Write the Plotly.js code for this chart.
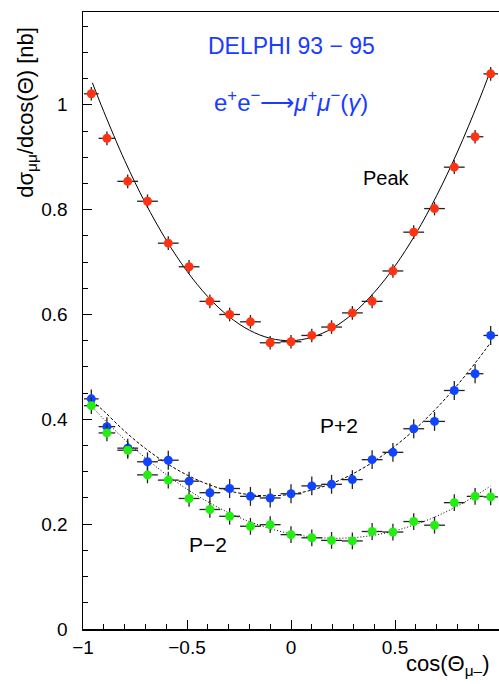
<!DOCTYPE html>
<html><head><meta charset="utf-8">
<script src="https://cdn.plot.ly/plotly-3.0.1.min.js"></script>
<style>html,body{margin:0;padding:0;background:#fff;overflow:hidden}</style>
</head><body><div id="chart" style="width:499px;height:684px"></div>
<script>
// bin centres of cos(theta)
const cosBins = [-0.96,-0.885,-0.785,-0.69,-0.59,-0.49,-0.39,-0.295,-0.195,-0.1,0,0.1,0.195,0.295,0.39,0.49,0.59,0.69,0.785,0.885,0.96];
// measured cross sections [nb]
const peakVals = [1.021,0.936,0.854,0.816,0.736,0.691,0.625,0.600,0.586,0.546,0.548,0.560,0.576,0.603,0.625,0.683,0.757,0.802,0.881,0.939,1.059];
const pPlus2Vals = [0.439,0.386,0.345,0.319,0.322,0.282,0.260,0.268,0.253,0.250,0.258,0.273,0.276,0.285,0.323,0.337,0.382,0.396,0.455,0.487,0.560];
const pMinus2Vals = [0.426,0.374,0.341,0.294,0.284,0.249,0.228,0.215,0.196,0.199,0.180,0.174,0.169,0.168,0.186,0.185,0.205,0.198,0.241,0.253,0.252];
// half bin widths and statistical errors
const binHalfWidth = [0.035,0.04,0.05,0.05,0.05,0.05,0.05,0.05,0.05,0.05,0.05,0.05,0.05,0.05,0.05,0.05,0.05,0.05,0.05,0.04,0.035];
const peakErr = 0.013;
const pPlus2Err = 0.018;
const pMinus2Err = 0.016;
// fitted curves
const fitX = [-0.955,-0.9,-0.8,-0.7,-0.6,-0.5,-0.4,-0.3,-0.2,-0.1,0,0.1,0.2,0.3,0.4,0.5,0.6,0.7,0.8,0.9,0.96];
const peakFit = [1.042,0.987,0.894,0.8125,0.742,0.6825,0.634,0.5965,0.570,0.5545,0.550,0.5565,0.574,0.6025,0.642,0.6925,0.754,0.8265,0.910,1.0045,1.066];
const pPlus2Fit = [0.435,0.4157,0.3775,0.3444,0.3165,0.2938,0.2761,0.2636,0.2563,0.2541,0.257,0.2651,0.2783,0.2966,0.3201,0.3488,0.3825,0.4214,0.4655,0.5147,0.5467];
const pMinus2Fit = [0.4232,0.4004,0.3615,0.3263,0.2947,0.2668,0.2426,0.2219,0.2049,0.1914,0.1817,0.1756,0.1731,0.1743,0.1790,0.1874,0.1995,0.2151,0.2345,0.2574,0.2730];

const FONT = 'Liberation Sans, Arial, Helvetica, sans-serif';
const errCol = '#222222';

function pts(y, err, color) {
  return {
    x: cosBins, y: y, type: 'scatter', mode: 'markers',
    marker: {color: color, size: 9, line: {width: 0}},
    error_x: {type: 'data', array: binHalfWidth, visible: true, color: errCol, thickness: 1.3, width: 0},
    error_y: {type: 'constant', value: err, visible: true, color: errCol, thickness: 1.3, width: 0},
    showlegend: false, hoverinfo: 'x+y'
  };
}
function fit(y, dash) {
  return {x: fitX, y: y, type: 'scatter', mode: 'lines',
    line: {color: '#000', width: 1, dash: dash, shape: 'spline'}, showlegend: false};
}

const data = [
  fit(peakFit, 'solid'),
  fit(pPlus2Fit, '3px,2px'),
  fit(pMinus2Fit, '1px,2px'),
  pts(peakVals, peakErr, '#ff3311'),
  pts(pPlus2Vals, pPlus2Err, '#1144ff'),
  pts(pMinus2Vals, pMinus2Err, '#22ee11')
];

const layout = {
  width: 499, height: 684,
  margin: {l: 83, r: 0, t: 12, b: 55},
  paper_bgcolor: '#fff', plot_bgcolor: '#fff',
  font: {family: FONT, color: '#000', size: 19},
  xaxis: {
    range: [-1, 1], showgrid: false, zeroline: false,
    showline: true, linecolor: '#000', linewidth: 1.5, mirror: true,
    ticks: 'inside', ticklen: 9, tickcolor: '#000', tickwidth: 1,
    tickvals: [-1,-0.5,0,0.5,1], ticktext: ['\u22121','\u22120.5','0','0.5','1'],
    minor: {dtick: 0.1, ticks: 'inside', ticklen: 5, tickcolor: '#000', tickwidth: 1, showgrid: false},
    tickfont: {family: FONT, size: 19}, ticklabelstandoff: 1
  },
  yaxis: {
    range: [0, 1.177], showgrid: false, zeroline: false,
    showline: true, linecolor: '#000', linewidth: 1.5,
    ticks: 'inside', ticklen: 9, tickcolor: '#000', tickwidth: 1,
    tickvals: [0,0.2,0.4,0.6,0.8,1], ticktext: ['0','0.2','0.4','0.6','0.8','1'],
    minor: {dtick: 0.05, ticks: 'inside', ticklen: 5, tickcolor: '#000', tickwidth: 1, showgrid: false},
    tickfont: {family: FONT, size: 19}, ticklabelstandoff: 10
  },
  annotations: [
    {xref: 'paper', yref: 'paper', x: -0.135, y: 0.838, xanchor: 'center', yanchor: 'middle', textangle: -90, showarrow: false,
     text: 'd\u03c3<sub>\u03bc\u03bc</sub>/dcos(\u0398) [nb]', font: {family: FONT, size: 22, color: '#000'}},
    {xref: 'paper', yref: 'paper', x: 0.772, y: -0.058, xanchor: 'left', yanchor: 'middle', showarrow: false,
     text: 'cos(\u0398<sub>\u03bc\u2013</sub>)', font: {family: FONT, size: 22, color: '#000'}},
    {xref: 'x', yref: 'y', x: 0, y: 1.113, showarrow: false,
     text: 'DELPHI 93 \u2212 95', font: {family: FONT, size: 23, color: '#1a3cff'}},
    {xref: 'x', yref: 'y', x: 0, y: 1.008, showarrow: false,
     text: 'e<sup>+</sup>e<sup>\u2212</sup>\u27f6<i>\u03bc</i><sup>+</sup><i>\u03bc</i><sup>\u2212</sup>(<i>\u03b3</i>)', font: {family: FONT, size: 24, color: '#1a3cff'}},
    {xref: 'x', yref: 'y', x: 0.46, y: 0.861, showarrow: false, text: 'Peak', font: {family: FONT, size: 20, color: '#000'}},
    {xref: 'x', yref: 'y', x: 0.23, y: 0.389, showarrow: false, text: 'P+2', font: {family: FONT, size: 21, color: '#000'}},
    {xref: 'x', yref: 'y', x: -0.40, y: 0.162, showarrow: false, text: 'P\u22122', font: {family: FONT, size: 21, color: '#000'}}
  ]
};
Plotly.newPlot('chart', data, layout, {displayModeBar: false, staticPlot: true});
</script></body></html>
